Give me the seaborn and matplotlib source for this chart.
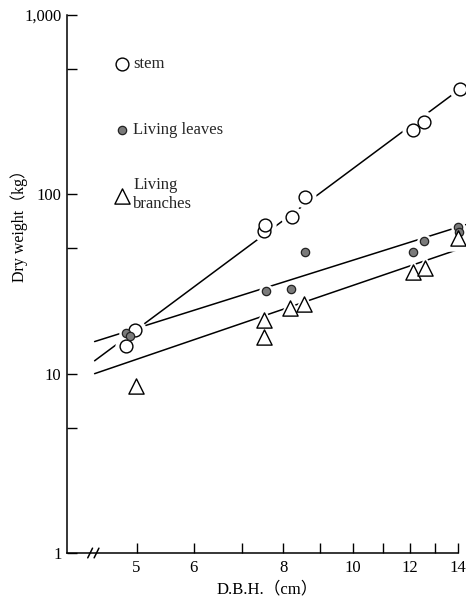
import matplotlib
matplotlib.use("Agg")
import matplotlib.pyplot as plt
import seaborn as sns
from matplotlib.legend import Legend
from matplotlib.ticker import FixedLocator, FixedFormatter, NullFormatter

# ---- data ----
stem_dbh = [4.84, 4.97, 7.52, 7.54, 8.22, 8.58, 12.12, 12.56, 14.1]
stem_wt = [14.3, 17.5, 62.5, 67.5, 74.8, 96.7, 228, 253, 387]

leaves_dbh = [4.84, 4.90, 7.56, 8.20, 8.58, 12.12, 12.56, 14.0, 14.05]
leaves_wt = [16.9, 16.2, 28.9, 29.7, 47.7, 47.7, 55.0, 66.0, 62.0]

branches_dbh = [4.99, 7.52, 7.52, 8.17, 8.55, 12.12, 12.6, 14.0]
branches_wt = [8.54, 19.9, 16.0, 23.3, 24.5, 36.9, 38.9, 57.1]

# fitted regression lines (end points)
stem_line_dbh = [4.37, 14.1]
stem_line_wt = [11.8, 387]
leaves_line_dbh = [4.37, 14.37]
leaves_line_wt = [15.1, 67.8]
branches_line_dbh = [4.37, 14.37]
branches_line_wt = [10.0, 51.0]

x_major = [5, 6, 8, 10, 12, 14]
x_minor = [7, 9, 11, 13]
y_major = [1, 10, 100, 1000]
y_major_labels = ["1", "10", "100", "1,000"]
y_minor = [5, 50, 500]

labels = ["stem", "Living leaves", "Living\nbranches"]

# ---- style ----
sns.set_theme(style="ticks")
plt.rcParams["font.family"] = ["Liberation Serif", "Noto Sans CJK JP"]

fig = plt.figure(figsize=(4.66, 6.01), dpi=100)
ax = fig.add_axes([67 / 466, 48 / 601, 399 / 466, 538 / 601])
ax.set_xscale("log")
ax.set_yscale("log")

# regression lines
for lx, ly in [(stem_line_dbh, stem_line_wt),
               (leaves_line_dbh, leaves_line_wt),
               (branches_line_dbh, branches_line_wt)]:
    sns.lineplot(x=lx, y=ly, ax=ax, color="black", linewidth=1.1, zorder=1)

# white halos around markers (gaps in lines)
for px, py, m, s in [(stem_dbh, stem_wt, "o", 85),
                     (leaves_dbh, leaves_wt, "o", 36),
                     (branches_dbh, branches_wt, "^", 120)]:
    sns.scatterplot(x=px, y=py, ax=ax, marker=m, s=s * 3.0, color="white",
                    edgecolor="white", linewidth=0, zorder=2, clip_on=False)

# markers
sns.scatterplot(x=stem_dbh, y=stem_wt, ax=ax, marker="o", s=85, color="white",
                edgecolor="black", linewidth=1.0, zorder=3, clip_on=False,
                label=labels[0])
sns.scatterplot(x=leaves_dbh, y=leaves_wt, ax=ax, marker="o", s=36, color="#7a7a7a",
                edgecolor="#222222", linewidth=0.9, zorder=3, clip_on=False,
                label=labels[1])
sns.scatterplot(x=branches_dbh, y=branches_wt, ax=ax, marker="^", s=120, color="white",
                edgecolor="black", linewidth=1.0, zorder=3, clip_on=False,
                label=labels[2])

# axes
ax.set_xlim(4.0, 14.37)
ax.set_ylim(1, 1000)
ax.xaxis.set_major_locator(FixedLocator(x_major))
ax.xaxis.set_major_formatter(FixedFormatter([str(v) for v in x_major]))
ax.xaxis.set_minor_locator(FixedLocator(x_minor))
ax.xaxis.set_minor_formatter(NullFormatter())
ax.yaxis.set_major_locator(FixedLocator(y_major))
ax.yaxis.set_major_formatter(FixedFormatter(y_major_labels))
ax.yaxis.set_minor_locator(FixedLocator(y_minor))
ax.yaxis.set_minor_formatter(NullFormatter())

ax.tick_params(which="both", direction="in", length=7, width=1.0, color="black",
               labelsize=12, labelcolor="black")
ax.tick_params(axis="y", pad=4)
ax.tick_params(axis="x", pad=5)

for side in ["top", "right"]:
    ax.spines[side].set_visible(False)
for side in ["left", "bottom"]:
    ax.spines[side].set_color("black")
    ax.spines[side].set_linewidth(1.1)
ax.spines["bottom"].set_bounds(4.0, 14.0)

# axis break marks on the x axis
for bx in [0.058, 0.074]:
    ax.plot([bx - 0.006, bx + 0.006], [-0.009, 0.009], transform=ax.transAxes,
            color="black", linewidth=1.1, clip_on=False, zorder=5)

ax.set_xlabel("D.B.H.（cm）", fontsize=12, color="black")
ax.set_ylabel("Dry weight（kg）", fontsize=11.5, color="black")
ax.xaxis.set_label_coords(0.503, -0.052)
ax.yaxis.set_label_coords(-0.098, 0.615)

# legend: one entry per row, placed like the reference
handles, hlabels = ax.get_legend_handles_labels()
if ax.get_legend() is not None:
    ax.get_legend().remove()
row_y = [0.909, 0.786, 0.666]
for h, lab, yy in zip(handles, hlabels, row_y):
    lg = Legend(ax, [h], [lab], loc="center left", bbox_to_anchor=(0.116, yy),
                frameon=False, fontsize=12, handlelength=1.0, handletextpad=0.2,
                borderpad=0, borderaxespad=0, scatterpoints=1)
    ax.add_artist(lg)

fig.savefig("out.png", dpi=100)
